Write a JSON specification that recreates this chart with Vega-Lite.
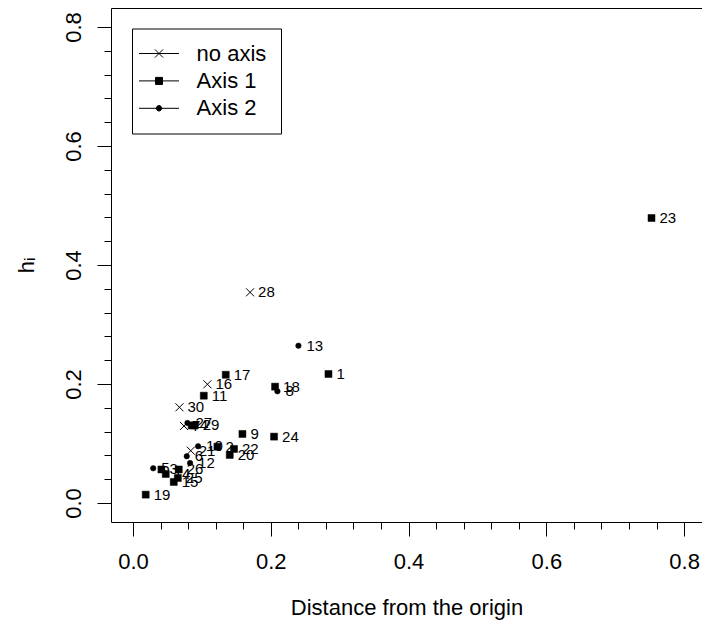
{
  "$schema": "https://vega.github.io/schema/vega-lite/v6.json",
  "autosize": "none",
  "width": 591,
  "height": 514,
  "padding": {"left": 111, "top": 8, "right": 0, "bottom": 110},
  "background": "white",
  "config": {
    "view": {"stroke": null},
    "axis": {
      "grid": false,
      "domainColor": "black",
      "domainWidth": 1,
      "tickColor": "black",
      "tickWidth": 1,
      "labelColor": "black",
      "titleColor": "black",
      "labelFont": "Liberation Sans",
      "titleFont": "Liberation Sans",
      "labelFontSize": 22,
      "titleFontSize": 22,
      "titleFontWeight": "normal"
    },
    "legend": {
      "title": null,
      "orient": "none",
      "legendX": 21,
      "legendY": 20.5,
      "padding": 14,
      "strokeColor": "black",
      "fillColor": "white",
      "cornerRadius": 0,
      "rowPadding": 5.4,
      "symbolSize": 81,
      "symbolOffset": 2,
      "symbolStrokeColor": "black",
      "symbolStrokeWidth": 1,
      "symbolOpacity": 1,
      "labelOffset": 26.6,
      "labelFont": "Liberation Sans",
      "labelFontSize": 22,
      "labelColor": "black",
      "labelLimit": 300
    }
  },
  "data": {
    "values": [
      {"id": "1", "type": "Axis 1", "d": 0.2837, "h": 0.2168},
      {"id": "2", "type": "Axis 1", "d": 0.1225, "h": 0.0946},
      {"id": "3", "type": "Axis 1", "d": 0.0412, "h": 0.0563},
      {"id": "4", "type": "Axis 1", "d": 0.0852, "h": 0.1303},
      {"id": "5", "type": "Axis 2", "d": 0.0293, "h": 0.0583},
      {"id": "6", "type": "Axis 2", "d": 0.0780, "h": 0.0785},
      {"id": "7", "type": "no axis", "d": 0.0740, "h": 0.1294},
      {"id": "8", "type": "Axis 2", "d": 0.2096, "h": 0.1877},
      {"id": "9", "type": "Axis 1", "d": 0.1588, "h": 0.1160},
      {"id": "10", "type": "Axis 2", "d": 0.0944, "h": 0.0953},
      {"id": "11", "type": "Axis 1", "d": 0.1027, "h": 0.1803},
      {"id": "12", "type": "Axis 2", "d": 0.0828, "h": 0.0672},
      {"id": "13", "type": "Axis 2", "d": 0.2401, "h": 0.2644},
      {"id": "14", "type": "Axis 1", "d": 0.0475, "h": 0.0487},
      {"id": "15", "type": "Axis 1", "d": 0.0591, "h": 0.0353},
      {"id": "16", "type": "no axis", "d": 0.1080, "h": 0.1995},
      {"id": "17", "type": "Axis 1", "d": 0.1346, "h": 0.2155},
      {"id": "18", "type": "Axis 1", "d": 0.2062, "h": 0.1955},
      {"id": "19", "type": "Axis 1", "d": 0.0184, "h": 0.0140},
      {"id": "20", "type": "Axis 1", "d": 0.1404, "h": 0.0807},
      {"id": "21", "type": "no axis", "d": 0.0838, "h": 0.0879},
      {"id": "22", "type": "Axis 1", "d": 0.1466, "h": 0.0908},
      {"id": "23", "type": "Axis 1", "d": 0.7527, "h": 0.4790},
      {"id": "24", "type": "Axis 1", "d": 0.2047, "h": 0.1115},
      {"id": "25", "type": "Axis 1", "d": 0.0650, "h": 0.0420},
      {"id": "26", "type": "Axis 1", "d": 0.0664, "h": 0.0563},
      {"id": "27", "type": "Axis 2", "d": 0.0790, "h": 0.1345},
      {"id": "28", "type": "no axis", "d": 0.1699, "h": 0.3541},
      {"id": "29", "type": "Axis 1", "d": 0.0895, "h": 0.1303},
      {"id": "30", "type": "no axis", "d": 0.0674, "h": 0.1608}
    ]
  },
  "resolve": {"axis": {"x": "independent", "y": "independent"}},
  "layer": [
    {
      "transform": [{"filter": "datum.type === 'legend only'"}],
      "mark": {"type": "point", "filled": true, "stroke": "black", "strokeWidth": 1},
      "encoding": {
        "x": {
          "field": "d", "type": "quantitative",
          "scale": {"domain": [-0.032, 0.826], "nice": false, "zero": false},
          "axis": {
            "orient": "bottom",
            "values": [0, 0.2, 0.4, 0.6, 0.8],
            "format": ".1f",
            "tickSize": 14,
            "labelPadding": 15,
            "labelFlush": false,
            "labelOverlap": false,
            "title": "Distance from the origin",
            "titlePadding": 25
          }
        },
        "y": {
          "field": "h", "type": "quantitative",
          "scale": {"domain": [-0.032, 0.832], "nice": false, "zero": false},
          "axis": {
            "orient": "left",
            "values": [0, 0.2, 0.4, 0.6, 0.8],
            "format": ".1f",
            "tickSize": 14,
            "labelAngle": 270,
            "labelAlign": "center",
            "labelBaseline": "bottom",
            "labelPadding": 12,
            "labelFlush": false,
            "labelOverlap": false,
            "title": "hᵢ",
            "titlePadding": 24
          }
        },
        "shape": {
          "field": "type", "type": "nominal",
          "scale": {
            "domain": ["no axis", "Axis 1", "Axis 2"],
            "range": [
              "M-4.44,0H4.44M-0.9,-0.9L0.9,0.9M-0.9,0.9L0.9,-0.9",
              "M-4.44,0H4.44M-0.78,-0.78H0.78V0.78H-0.78Z",
              "M-4.44,0H4.44M-0.6,0A0.6,0.6,0,1,1,0.6,0A0.6,0.6,0,1,1,-0.6,0Z"
            ]
          },
          "legend": {
            "title": null,
            "encode": {
              "symbols": {
                "stroke": {"value": "black"},
                "strokeWidth": {"value": 1},
                "update": {
                  "stroke": {"value": "black"},
                  "strokeWidth": {"value": 1}
                }
              }
            }
          }
        },
        "fill": {
          "field": "type", "type": "nominal",
          "scale": {
            "domain": ["no axis", "Axis 1", "Axis 2"],
            "range": ["transparent", "black", "black"]
          },
          "legend": {
            "title": null,
            "encode": {
              "symbols": {
                "stroke": {"value": "black"},
                "strokeWidth": {"value": 1},
                "update": {
                  "stroke": {"value": "black"},
                  "strokeWidth": {"value": 1}
                }
              }
            }
          }
        }
      }
    },
    {
      "transform": [{"filter": "datum.type === 'no axis'"}],
      "mark": {"type": "point", "shape": "M-1,-1L1,1M-1,1L1,-1", "size": 64, "filled": false, "stroke": "black", "strokeWidth": 1, "opacity": 1},
      "encoding": {
        "x": {"field": "d", "type": "quantitative", "axis": null},
        "y": {"field": "h", "type": "quantitative", "axis": null}
      }
    },
    {
      "transform": [{"filter": "datum.type === 'Axis 1'"}],
      "mark": {"type": "point", "shape": "square", "size": 49, "filled": true, "fill": "black", "stroke": "black", "strokeWidth": 0.5, "opacity": 1},
      "encoding": {
        "x": {"field": "d", "type": "quantitative", "axis": null},
        "y": {"field": "h", "type": "quantitative", "axis": null}
      }
    },
    {
      "transform": [{"filter": "datum.type === 'Axis 2'"}],
      "mark": {"type": "point", "shape": "circle", "size": 30, "filled": true, "fill": "black", "stroke": "black", "strokeWidth": 0.5, "opacity": 1},
      "encoding": {
        "x": {"field": "d", "type": "quantitative", "axis": null},
        "y": {"field": "h", "type": "quantitative", "axis": null}
      }
    },
    {
      "mark": {"type": "text", "align": "left", "baseline": "middle", "dx": 8, "font": "Liberation Sans", "fontSize": 15, "color": "black"},
      "encoding": {
        "x": {
          "field": "d", "type": "quantitative",
          "axis": {
            "orient": "bottom",
            "values": [0.04, 0.08, 0.12, 0.16, 0.24, 0.28, 0.32, 0.36, 0.44, 0.48, 0.52, 0.56, 0.64, 0.68, 0.72, 0.76],
            "tickSize": 7,
            "labels": false,
            "domain": false,
            "title": null
          }
        },
        "y": {
          "field": "h", "type": "quantitative",
          "axis": {
            "orient": "left",
            "values": [0.04, 0.08, 0.12, 0.16, 0.24, 0.28, 0.32, 0.36, 0.44, 0.48, 0.52, 0.56, 0.64, 0.68, 0.72, 0.76],
            "tickSize": 7,
            "labels": false,
            "domain": false,
            "title": null
          }
        },
        "text": {"field": "id", "type": "nominal"}
      }
    },
    {
      "mark": {"type": "point", "opacity": 0},
      "encoding": {
        "x": {
          "field": "d", "type": "quantitative",
          "axis": {
            "orient": "top",
            "ticks": false,
            "labels": false,
            "domain": true,
            "title": null
          }
        },
        "y": {"field": "h", "type": "quantitative", "axis": null}
      }
    }
  ]
}
